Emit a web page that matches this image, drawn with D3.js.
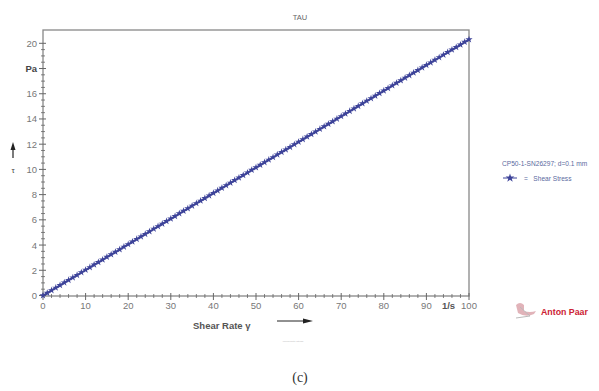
<!DOCTYPE html>
<html><head><meta charset="utf-8">
<script src="https://cdn.jsdelivr.net/npm/d3@7"></script>
<style>body{margin:0;background:#fff;}svg{display:block;font-family:"Liberation Sans",Arial,sans-serif;}</style>
</head><body>
<script>
const shearRate = [0,1,2,3,4,5,6,7,8,9,10,11,12,13,14,15,16,17,18,19,20,21,22,23,24,25,26,27,28,29,30,31,32,33,34,35,36,37,38,39,40,41,42,43,44,45,46,47,48,49,50,51,52,53,54,55,56,57,58,59,60,61,62,63,64,65,66,67,68,69,70,71,72,73,74,75,76,77,78,79,80,81,82,83,84,85,86,87,88,89,90,91,92,93,94,95,96,97,98,99,100];
const shearStress = [0,0.20,0.41,0.61,0.81,1.02,1.22,1.42,1.62,1.83,2.03,2.23,2.44,2.64,2.84,3.05,3.25,3.45,3.65,3.86,4.06,4.26,4.47,4.67,4.87,5.08,5.28,5.48,5.68,5.89,6.09,6.29,6.50,6.70,6.90,7.11,7.31,7.51,7.71,7.92,8.12,8.32,8.53,8.73,8.93,9.14,9.34,9.54,9.74,9.95,10.15,10.35,10.56,10.76,10.96,11.17,11.37,11.57,11.77,11.98,12.18,12.38,12.59,12.79,12.99,13.20,13.40,13.60,13.80,14.01,14.21,14.41,14.62,14.82,15.02,15.23,15.43,15.63,15.83,16.04,16.24,16.44,16.65,16.85,17.05,17.26,17.46,17.66,17.86,18.07,18.27,18.47,18.68,18.88,19.08,19.29,19.49,19.69,19.89,20.10,20.30];
const xTickValues = [0,10,20,30,40,50,60,70,80,90,100];
const xTickLabels = ["0","10","20","30","40","50","60","70","80","90","100"];
const yTickValues = [0,2,4,6,8,10,12,14,16,18,20];
const yTickLabels = ["0","2","4","6","8","10","12","14","16","Pa","20"];
const chartTitle = "TAU";
const legendTitle = "CP50-1-SN26297; d=0.1 mm";
const seriesName = "Shear Stress";

const W = 599, H = 391;
const svg = d3.select("body").append("svg").attr("width", W).attr("height", H);
const L = 43, R = 469, T = 30, B = 296;
const x = d3.scaleLinear().domain([0,100]).range([L,R]);
const y = d3.scaleLinear().domain([0,20]).range([295.5,43.3]);

const axisCol = "#666", labCol = "#777";
svg.append("rect").attr("x",L).attr("y",T).attr("width",R-L).attr("height",B-T)
  .attr("fill","none").attr("stroke","#888").attr("stroke-width",1.3);

svg.append("text").attr("x",300).attr("y",20).attr("text-anchor","middle")
  .attr("font-size",7.5).attr("fill","#666").text(chartTitle);

const gy = svg.append("g");
d3.range(0,20.01,0.5).forEach(v=>{
  const major = Math.abs(v%2)<1e-6;
  gy.append("line").attr("x1",major?L-4:L-2).attr("x2",major?L+3:L+2)
    .attr("y1",y(v)).attr("y2",y(v)).attr("stroke",axisCol).attr("stroke-width",major?1:0.8);
});
yTickValues.forEach((v,i)=>{
  const t = yTickLabels[i];
  gy.append("text").attr("x",L-6).attr("y",y(v)+3.5).attr("text-anchor","end")
    .attr("font-size",9.5).attr("fill", t==="Pa"?"#444":labCol)
    .attr("font-weight", t==="Pa"?"bold":"normal").text(t);
});
const gx = svg.append("g");
d3.range(0,100.01,2).forEach(v=>{
  const major = Math.abs(v%10)<1e-6;
  gx.append("line").attr("x1",x(v)).attr("x2",x(v))
    .attr("y1",major?B-3:B-2).attr("y2",major?B+4:B+2).attr("stroke",axisCol).attr("stroke-width",major?1:0.8);
});
xTickValues.forEach((v,i)=>{
  gx.append("text").attr("x",x(v)).attr("y",B+13).attr("text-anchor","middle")
    .attr("font-size",9.5).attr("fill",labCol).text(xTickLabels[i]);
});
gx.append("text").attr("x",x(95.2)).attr("y",B+13).attr("text-anchor","middle")
  .attr("font-size",9.5).attr("font-weight","bold").attr("fill","#555").text("1/s");

svg.append("text").attr("x",193).attr("y",329).attr("font-size",9.5).attr("font-weight","bold")
  .attr("fill","#555").text("Shear Rate γ");
svg.append("line").attr("x1",277).attr("x2",306).attr("y1",321).attr("y2",321).attr("stroke","#222").attr("stroke-width",1);
svg.append("path").attr("d","M303,318.5 L313,321 L303,323.5 Z").attr("fill","#222");
svg.append("text").attr("x",293).attr("y",342).attr("text-anchor","middle").attr("font-size",2.5).attr("fill","#bbb").text("Linear/Rate Stress");
svg.append("line").attr("x1",13).attr("x2",13).attr("y1",158).attr("y2",146).attr("stroke","#222").attr("stroke-width",1.2);
svg.append("path").attr("d","M10.5,150 L13,142 L15.5,150 Z").attr("fill","#222");
svg.append("text").attr("x",13).attr("y",173).attr("text-anchor","middle").attr("font-size",8).attr("fill","#444").text("τ");

const col = "#3d4399";
svg.append("path").datum(shearRate.map((d,i)=>[d,shearStress[i]]))
  .attr("d", d3.line().x(d=>x(d[0])).y(d=>y(d[1])))
  .attr("fill","none").attr("stroke",col).attr("stroke-width",1.8);
svg.append("g").selectAll("path").data(shearRate).join("path")
  .attr("transform",(d,i)=>`translate(${x(d)},${y(shearStress[i])})`)
  .attr("d", d3.symbol(d3.symbolStar, 16)).attr("fill",col);

svg.append("text").attr("x",502).attr("y",166).attr("font-size",6.6).attr("fill","#5a6aa0").text(legendTitle);
svg.append("line").attr("x1",503).attr("x2",517).attr("y1",178).attr("y2",178).attr("stroke",col).attr("stroke-width",1);
svg.append("path").attr("transform","translate(510,178)").attr("d",d3.symbol(d3.symbolStar,24)).attr("fill",col);
svg.append("text").attr("x",524).attr("y",180.5).attr("font-size",6.6).attr("fill","#5a6aa0").attr("xml:space","preserve").text("=   " + seriesName);

const lg = svg.append("g");
lg.append("path").attr("d","M516,305 q4,-4 8,0 l0,6 q6,2 12,0 l-2,3 q-8,4 -16,-1 z").attr("fill","#d9a0a8").attr("opacity",0.8);
lg.append("path").attr("d","M520,307 l10,9 l-14,2").attr("fill","none").attr("stroke","#bbb").attr("stroke-width",1);
lg.append("text").attr("x",541).attr("y",315).attr("font-size",8.8).attr("font-weight","bold").attr("fill","#cc2233").text("Anton Paar");

svg.append("text").attr("x",300).attr("y",382).attr("text-anchor","middle").attr("font-size",14)
  .attr("font-family","Liberation Serif, serif").attr("fill","#333").text("(c)");
</script>
</body></html>
